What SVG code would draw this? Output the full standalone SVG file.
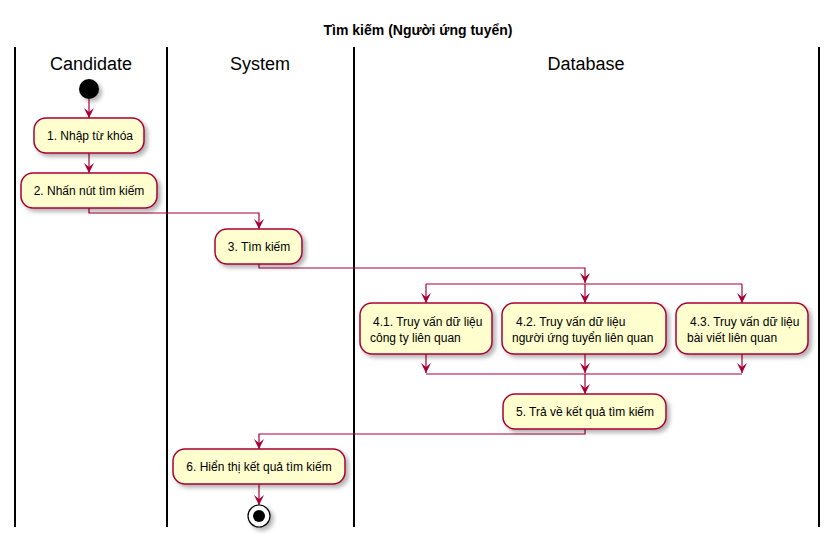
<svg xmlns="http://www.w3.org/2000/svg" width="836" height="542" viewBox="0 0 836 542">
<defs>
<filter id="sh" x="-20%" y="-20%" width="150%" height="160%">
<feDropShadow dx="3" dy="3" stdDeviation="2" flood-color="#000" flood-opacity="0.3"/>
</filter>
<marker id="ah" viewBox="0 0 10 10" refX="10" refY="5" markerWidth="10" markerHeight="10" markerUnits="userSpaceOnUse" orient="auto">
<path d="M0,0 L10,5 L0,10 L4,5 Z" fill="#A80036"/>
</marker>
<style>
.lane{stroke:#000;stroke-width:2}
.lt{font-family:"Liberation Sans",Arial,sans-serif;font-size:18px;fill:#000;text-anchor:middle}
.title{font-family:"Liberation Sans",Arial,sans-serif;font-size:14px;font-weight:bold;fill:#000;text-anchor:middle}
.box{fill:#FEFECE;stroke:#A80036;stroke-width:1.5;filter:url(#sh)}
.t{font-family:"Liberation Sans",Arial,sans-serif;font-size:12px;fill:#000}
.c{text-anchor:middle}
.e{fill:none;stroke:#A80036;stroke-width:1.2}
.ea{fill:none;stroke:#A80036;stroke-width:1.2;marker-end:url(#ah)}
</style>
</defs>
<rect width="836" height="542" fill="#fff"/>
<text class="title" x="418" y="35">Tìm kiếm (Người ứng tuyển)</text>
<g id="lanes">
<line class="lane" x1="15" y1="47" x2="15" y2="527"/>
<line class="lane" x1="167" y1="47" x2="167" y2="527"/>
<line class="lane" x1="354" y1="47" x2="354" y2="527"/>
<line class="lane" x1="819" y1="47" x2="819" y2="527"/>
<text class="lt" x="91" y="70">Candidate</text>
<text class="lt" x="260" y="70">System</text>
<text class="lt" x="586" y="70">Database</text>
</g>
<g id="connectors">
<line class="ea" x1="89" y1="99" x2="89" y2="118"/>
<line class="ea" x1="89" y1="153" x2="89" y2="173"/>
<polyline class="ea" points="89,208 89,213 259,213 259,229"/>
<polyline class="ea" points="259,264 259,268 585,268 585,283"/>
<line class="e" x1="426" y1="284" x2="742" y2="284"/>
<line class="ea" x1="426" y1="284" x2="426" y2="303"/>
<line class="ea" x1="585" y1="284" x2="585" y2="303"/>
<line class="ea" x1="742" y1="284" x2="742" y2="303"/>
<line class="ea" x1="426" y1="354" x2="426" y2="373"/>
<line class="ea" x1="585" y1="354" x2="585" y2="373"/>
<line class="ea" x1="742" y1="354" x2="742" y2="373"/>
<line class="e" x1="426" y1="374" x2="742" y2="374"/>
<line class="ea" x1="585" y1="374" x2="585" y2="394"/>
<polyline class="ea" points="585,429 585,434 259,434 259,449"/>
<line class="ea" x1="259" y1="484" x2="259" y2="505"/>
</g>
<g id="start"><circle cx="89" cy="89" r="10" fill="#000" filter="url(#sh)"/></g>
<g id="n1"><rect class="box" x="34" y="118" width="110" height="35" rx="12"/><text class="t c" x="90" y="140">1. Nhập từ khóa</text></g>
<g id="n2"><rect class="box" x="21" y="173" width="136" height="35" rx="12"/><text class="t c" x="89" y="195">2. Nhấn nút tìm kiếm</text></g>
<g id="n3"><rect class="box" x="215" y="229" width="87" height="35" rx="12"/><text class="t c" x="259" y="251">3. Tìm kiếm</text></g>
<g id="n41"><rect class="box" x="360" y="303" width="132" height="51" rx="12"/><text class="t" x="373" y="326">4.1. Truy vấn dữ liệu</text><text class="t" x="370" y="342">công ty liên quan</text></g>
<g id="n42"><rect class="box" x="502" y="303" width="164" height="51" rx="12"/><text class="t" x="516" y="326">4.2. Truy vấn dữ liệu</text><text class="t" x="512" y="342">người ứng tuyển liên quan</text></g>
<g id="n43"><rect class="box" x="676" y="303" width="132" height="51" rx="12"/><text class="t" x="690" y="326">4.3. Truy vấn dữ liệu</text><text class="t" x="687" y="342">bài viết liên quan</text></g>
<g id="n5"><rect class="box" x="503" y="394" width="163" height="35" rx="12"/><text class="t c" x="585" y="416">5. Trả về kết quả tìm kiếm</text></g>
<g id="n6"><rect class="box" x="173" y="449" width="172" height="35" rx="12"/><text class="t c" x="259" y="471">6. Hiển thị kết quả tìm kiếm</text></g>
<g id="end"><circle cx="259" cy="516" r="11" fill="#fff" stroke="#000" stroke-width="1.2" filter="url(#sh)"/><circle cx="259" cy="516" r="6" fill="#000"/></g>
</svg>
